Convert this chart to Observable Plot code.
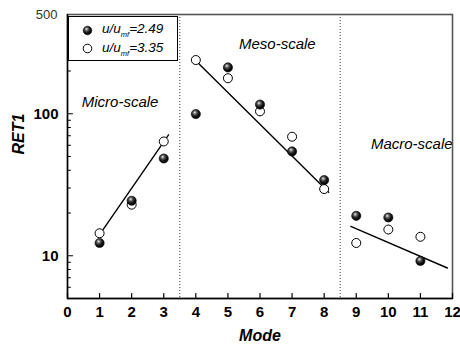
<!DOCTYPE html>
<html>
<head>
<meta charset="utf-8">
<script src="https://cdn.jsdelivr.net/npm/d3@7"></script>
<script src="https://cdn.jsdelivr.net/npm/@observablehq/plot@0.6"></script>
<style>
  html, body { margin: 0; padding: 0; background: white; }
  #wrap { position: relative; width: 460px; height: 354px; font-family: "Liberation Sans", Arial, sans-serif; }
  #legend { position: absolute; left: 68px; top: 16px; width: 110px; height: 45px; border: 1px solid #000; background: white; box-sizing: border-box; }
  .row { position: absolute; left: 0; height: 18px; display: flex; align-items: center; font-style: italic; font-size: 13.5px; }
  .row svg { margin-left: 13px; margin-right: 9px; }
  .row sub { font-size: 7.5px; vertical-align: -4px; }
</style>
</head>
<body>
<div id="wrap"></div>
<script>
// Data
const modes = [1, 2, 3, 4, 5, 6, 7, 8, 9, 10, 11];
const ret249 = [12.3, 24.4, 48.4, 99.5, 212, 116, 54.3, 34.1, 19.1, 18.6, 9.2];
const ret335 = [14.4, 22.9, 63.8, 239, 178, 104, 68.9, 29.5, 12.3, 15.3, 13.6];

const fitMicroX = [1, 3.15], fitMicroY = [14.1, 71];
const fitMesoX = [4, 8.14], fitMesoY = [236, 28];
const fitMacroX = [8.83, 11.84], fitMacroY = [16.1, 8.2];

const regionNames = ["Micro-scale", "Meso-scale", "Macro-scale"];
const regionX = [1.64, 6.54, 10.73];
const regionY = [121, 310, 61];

const boundaries = [3.5, 8.5];
const xDomain = [0, 12];
const yDomain = [5, 500];
const xTicks = [0, 1, 2, 3, 4, 5, 6, 7, 8, 9, 10, 11, 12];
const yMajor = [10, 100];
const yMinor = [6, 7, 8, 9, 20, 30, 40, 50, 60, 70, 80, 90, 200, 300, 400];
const yTop = [500];
const legendLabels = ["2.49", "3.35"];

const fits = [
  ...fitMicroX.map((x, i) => ({seg: "micro", x, y: fitMicroY[i]})),
  ...fitMesoX.map((x, i) => ({seg: "meso", x, y: fitMesoY[i]})),
  ...fitMacroX.map((x, i) => ({seg: "macro", x, y: fitMacroY[i]}))
];
const filled = modes.map((m, i) => ({x: m, y: ret249[i]}));
const open = modes.map((m, i) => ({x: m, y: ret335[i]}));
const regions = regionNames.map((n, i) => ({name: n, x: regionX[i], y: regionY[i]}));

// short tick shape for vector marks
const tickShape = {draw(context, l) { context.moveTo(0, 0); context.lineTo(0, -l); }};

const chart = Plot.plot({
  width: 460,
  height: 354,
  marginLeft: 67,
  marginRight: 8,
  marginTop: 14,
  marginBottom: 56,
  style: {fontFamily: "'Liberation Sans', Arial, sans-serif", background: "white", color: "black"},
  x: {domain: xDomain},
  y: {type: "log", domain: yDomain},
  marks: [
    Plot.ruleX(boundaries, {stroke: "#444", strokeDasharray: "1,2", strokeWidth: 1}),
    Plot.line(fits, {x: "x", y: "y", z: "seg", stroke: "black", strokeWidth: 1.4}),
    Plot.dot(open, {x: "x", y: "y", r: 4.5, fill: "white", stroke: "black", strokeWidth: 1}),
    Plot.dot(filled, {x: "x", y: "y", r: 4.6, fill: "url(#ball)", stroke: "black", strokeWidth: 0.6}),
    Plot.text(regions, {x: "x", y: "y", text: "name", fontStyle: "italic", fontSize: 15}),
    // tick labels
    Plot.axisX({ticks: xTicks, tickSize: 0, tickPadding: 8, fontSize: 15, fontWeight: "bold", label: null, tickFormat: d3.format("d")}),
    Plot.axisY({ticks: yMajor, tickSize: 0, tickPadding: 9, fontSize: 15, fontWeight: "bold", label: null, tickFormat: d3.format("d")}),
    Plot.axisY({ticks: yTop, tickSize: 0, tickPadding: 10, fontSize: 13, fill: "#333", label: null, tickFormat: d3.format("d")}),
    Plot.frame({stroke: "#555", strokeWidth: 1.6}),
    Plot.ruleX([xDomain[0]], {stroke: "black", strokeWidth: 1.4}),
    Plot.ruleY([yDomain[0]], {stroke: "black", strokeWidth: 1.4}),
    // inward tick marks
    Plot.vector(xTicks, {x: (d) => d, frameAnchor: "bottom", length: 5, rotate: 0, anchor: "start", shape: tickShape, stroke: "black", strokeWidth: 1.2}),
    Plot.vector(yMajor, {y: (d) => d, frameAnchor: "left", length: 5, rotate: 90, anchor: "start", shape: tickShape, stroke: "black", strokeWidth: 1.2}),
    Plot.vector(yMinor, {y: (d) => d, frameAnchor: "left", length: 3, rotate: 90, anchor: "start", shape: tickShape, stroke: "black", strokeWidth: 1}),
    Plot.text(["Mode"], {frameAnchor: "bottom", dy: 42, fontSize: 16, fontWeight: "bold", fontStyle: "italic"}),
    Plot.text(["RET1"], {frameAnchor: "left", dx: -49, dy: -2, rotate: -90, fontSize: 16, fontWeight: "bold", fontStyle: "italic"})
  ]
});

const svg = chart.tagName.toLowerCase() === "svg" ? chart : chart.querySelector("svg");
const defs = document.createElementNS("http://www.w3.org/2000/svg", "defs");
defs.innerHTML = '<radialGradient id="ball" cx="0.42" cy="0.38" r="0.6" fx="0.38" fy="0.32"><stop offset="0" stop-color="#f0f0f0"/><stop offset="0.35" stop-color="#555"/><stop offset="0.7" stop-color="#111"/><stop offset="1" stop-color="#000"/></radialGradient>';
svg.insertBefore(defs, svg.firstChild);

const wrap = document.getElementById("wrap");
wrap.appendChild(chart);

// Legend
const legend = document.createElement("div");
legend.id = "legend";
legendLabels.forEach((lab, i) => {
  const row = document.createElement("div");
  row.className = "row";
  row.style.top = (4 + i * 18.5) + "px";
  const fill = i === 0 ? "url(#ball)" : "white";
  row.innerHTML = `<svg width="11" height="11"><circle cx="5.5" cy="5.5" r="4.3" fill="${fill}" stroke="black" stroke-width="${i === 0 ? 0.6 : 1}"/></svg><span>u/u<sub>mf</sub>=${lab}</span>`;
  legend.appendChild(row);
});
wrap.appendChild(legend);
</script>
</body>
</html>
